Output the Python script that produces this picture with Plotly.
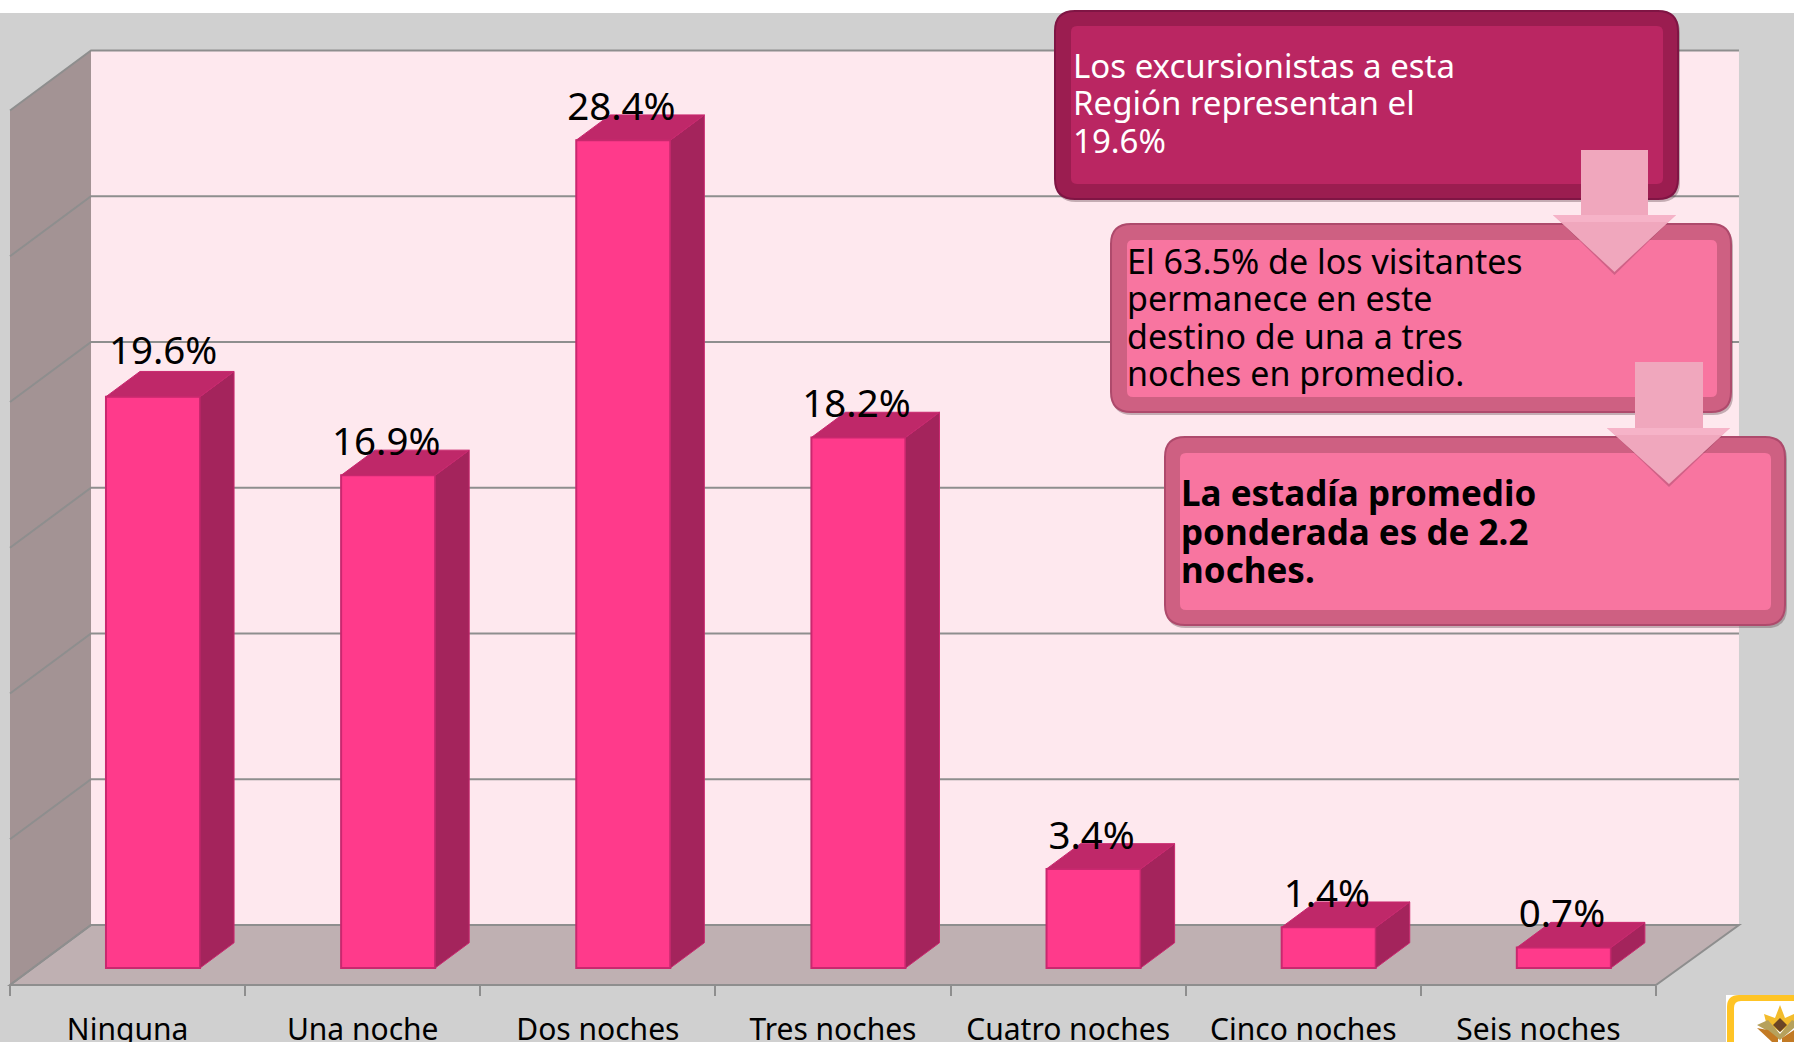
import plotly.graph_objects as go

# ---- data ----
categories = ["Ninguna", "Una noche", "Dos noches", "Tres noches", "Cuatro noches", "Cinco noches", "Seis noches"]
values = [19.6, 16.9, 28.4, 18.2, 3.4, 1.4, 0.7]
grid_values = [0, 5, 10, 15, 20, 25, 30]
box1_lines = ["Los excursionistas a esta", "Región representan el", "19.6%"]
box2_lines = ["El 63.5% de los visitantes", "permanece en este", "destino de una a tres", "noches en promedio."]
box3_lines = ["La estadía promedio", "ponderada es de 2.2", "noches."]

# ---- frame ----
W, H = 1794, 1042
FONT = "Noto Sans"
X_SCALE, Y_SCALE = 235.14, 29.15        # px per category / px per value unit
X_ORIGIN, Y_ORIGIN = 127.57, 968.0      # px of category 0 / value 0
DEPTH_X, DEPTH_Y = 0.3445, 2.06         # full floor depth in data units
BAR_FRONT, BAR_BACK = 0.283, 0.703
BAR_SHIFT = 2.5 / X_SCALE
BAR_W = 0.40
WALL_EXTRA = 2 / X_SCALE
BG, BACK, LEFT, FLOOR, GRID = "#D0D0D0", "#FEE8EE", "#A39394", "#BFB0B2", "#8E8E8E"
C_FRONT, C_SIDE, C_TOP, C_EDGE = "#FF3A8B", "#A4245C", "#BF2869", "#C9286F"


def pt(x, v, d):
    return x + d * DEPTH_X, v + (d - BAR_FRONT) * DEPTH_Y


def data_path(points):
    return "M" + " L".join(f"{x:.4f},{y:.4f}" for x, y in points) + " Z"


def px_x(p):
    return p / W


def px_y(p):
    return 1 - p / H


def rrect(x0, y0, x1, y1, r):
    c = [(x0 + r, y0), (x1 - r, y0), (x1, y0), (x1, y0 + r), (x1, y1 - r), (x1, y1), (x1 - r, y1),
         (x0 + r, y1), (x0, y1), (x0, y1 - r), (x0, y0 + r), (x0, y0), (x0 + r, y0)]
    f = lambda p: f"{px_x(p[0]):.5f},{px_y(p[1]):.5f}"
    return (f"M{f(c[0])} L{f(c[1])} Q{f(c[2])} {f(c[3])} L{f(c[4])} Q{f(c[5])} {f(c[6])} "
            f"L{f(c[7])} Q{f(c[8])} {f(c[9])} L{f(c[10])} Q{f(c[11])} {f(c[12])} Z")


def px_poly(points):
    return "M" + " L".join(f"{px_x(x):.5f},{px_y(y):.5f}" for x, y in points) + " Z"


shapes = []
XL, XR = -0.5, len(categories) - 0.5
XR_BACK = XR + WALL_EXTRA
# white band at top of the slide
shapes.append(dict(type="rect", xref="paper", yref="paper", x0=0, x1=1, y0=px_y(13), y1=1,
                   fillcolor="white", line_width=0, layer="below"))
# walls
shapes.append(dict(type="path", xref="x", yref="y", layer="below", fillcolor=BACK, line_width=0,
                   path=data_path([pt(XL, 0, 1), pt(XL, 30, 1), pt(XR_BACK, 30, 1), pt(XR_BACK, 0, 1)])))
shapes.append(dict(type="path", xref="x", yref="y", layer="below", fillcolor=LEFT, line_width=0,
                   path=data_path([pt(XL, 0, 0), pt(XL, 30, 0), pt(XL, 30, 1), pt(XL, 0, 1)])))
shapes.append(dict(type="path", xref="x", yref="y", layer="below", fillcolor=FLOOR,
                   line=dict(color=GRID, width=2),
                   path=data_path([pt(XL, 0, 0), pt(XL, 0, 1), pt(XR_BACK, 0, 1), pt(XR, 0, 0)])))
for g in grid_values:
    a, b, c = pt(XL, g, 0), pt(XL, g, 1), pt(XR_BACK, g, 1)
    shapes.append(dict(type="path", xref="x", yref="y", layer="below", line=dict(color=GRID, width=2),
                       path=f"M{a[0]:.4f},{a[1]:.4f} L{b[0]:.4f},{b[1]:.4f} L{c[0]:.4f},{c[1]:.4f}"))

# callout boxes
for (o, i, cout, cin, cedge) in [
    ((1055, 11, 1678, 199), (1071, 26, 1663, 184), "#9B1D50", "#BA2662", "#7F1544"),
    ((1111, 224, 1731, 412), (1127, 240, 1717, 397), "#CE6082", "#F875A0", "#AE4A6C"),
    ((1165, 437, 1785, 625), (1180, 453, 1771, 610), "#CE6082", "#F875A0", "#AE4A6C"),
]:
    shapes.append(dict(type="path", xref="paper", yref="paper", layer="above", fillcolor="rgba(90,60,70,0.35)",
                       line_width=0, path=rrect(o[0] + 1, o[1] + 2, o[2] + 2, o[3] + 3, 20)))
    shapes.append(dict(type="path", xref="paper", yref="paper", layer="above", fillcolor=cout,
                       line=dict(color=cedge, width=2), path=rrect(*o, 20)))
    shapes.append(dict(type="path", xref="paper", yref="paper", layer="above", fillcolor=cin,
                       line_width=0, path=rrect(*i, 6)))

# down arrows
for (sx0, sx1, sy0, sy1, hx0, hx1, tx, ty) in [
    (1581, 1648, 150, 215, 1553, 1676, 1614.5, 272),
    (1635, 1703, 362, 428, 1607, 1730, 1669, 484),
]:
    shapes.append(dict(type="path", xref="paper", yref="paper", layer="above", fillcolor="rgba(90,40,60,0.25)",
                       line_width=0,
                       path=px_poly([(tx - 55, sy1 + 6), (tx, ty + 3), (tx + 55, sy1 + 6), (tx, ty - 2)])))
    shapes.append(dict(type="path", xref="paper", yref="paper", layer="above", fillcolor="#F0A7BD", line_width=0,
                       path=px_poly([(sx0, sy0), (sx1, sy0), (sx1, sy1), (hx1, sy1), (tx, ty), (hx0, sy1), (sx0, sy1)])))
    shapes.append(dict(type="path", xref="paper", yref="paper", layer="above", fillcolor="#F6B3C8", line_width=0,
                       path=px_poly([(hx0, sy1), (hx1, sy1), (hx1 - 8, sy1 + 7), (hx0 + 8, sy1 + 7)])))

# corner logo
LOGO = [
    ("white", rrect(1726, 995, 1810, 1060, 0)),
    ("#FFC425", rrect(1727, 995, 1810, 1060, 12)),
    ("white", rrect(1734, 1001, 1810, 1060, 7)),
    ("#F3BC2C", px_poly([(1780, 1005), (1785, 1018), (1794, 1014), (1794, 1022), (1780, 1032), (1766, 1022), (1764, 1014), (1775, 1018)])),
    ("#B6A15C", px_poly([(1757, 1025), (1768, 1020), (1780, 1034), (1792, 1020), (1794, 1021), (1794, 1028), (1780, 1040), (1766, 1030)])),
    ("#C27A24", px_poly([(1757, 1028), (1768, 1030), (1778, 1038), (1778, 1042), (1772, 1042)])),
    ("#C27A24", px_poly([(1782, 1038), (1794, 1030), (1794, 1042), (1782, 1042)])),
    ("#6B4526", px_poly([(1780, 1018), (1787, 1025), (1780, 1032), (1773, 1025)])),
]
for col, path in LOGO:
    shapes.append(dict(type="path", xref="paper", yref="paper", layer="above", fillcolor=col, line_width=0, path=path))

fig = go.Figure()

# front faces
fig.add_trace(go.Bar(
    x=list(range(len(categories))), y=values, width=BAR_W,
    offset=BAR_FRONT * DEPTH_X + BAR_SHIFT - BAR_W / 2,
    marker=dict(color=C_FRONT, line=dict(color=C_EDGE, width=2)), showlegend=False, hoverinfo="skip",
))

# 3D side and top faces
for i, v in enumerate(values):
    x0 = i + BAR_SHIFT - BAR_W / 2
    x1 = i + BAR_SHIFT + BAR_W / 2
    top = [pt(x0, v, BAR_FRONT), pt(x0, v, BAR_BACK), pt(x1, v, BAR_BACK), pt(x1, v, BAR_FRONT)]
    side = [pt(x1, 0, BAR_FRONT), pt(x1, v, BAR_FRONT), pt(x1, v, BAR_BACK), pt(x1, 0, BAR_BACK)]
    for poly, col in ((side, C_SIDE), (top, C_TOP)):
        xs, ys = zip(*(poly + poly[:1]))
        fig.add_trace(go.Scatter(x=xs, y=ys, mode="lines", fill="toself", fillcolor=col,
                                 line=dict(color=C_EDGE, width=1), showlegend=False, hoverinfo="skip"))

# value labels
LABEL_LIFT = 30 / Y_SCALE
FIRST_EXTRA_X, FIRST_EXTRA_Y = 12 / X_SCALE, 12 / Y_SCALE
lx = [i + BAR_FRONT * DEPTH_X + BAR_SHIFT - 0.008 for i in range(len(values))]
ly = [v + LABEL_LIFT for v in values]
lx[0] += FIRST_EXTRA_X
ly[0] += FIRST_EXTRA_Y
fig.add_trace(go.Scatter(x=lx, y=ly, mode="text", text=[f"{v:.1f}%" for v in values],
                         textposition="middle center", textfont=dict(family=FONT, size=38.5, color="black"),
                         showlegend=False, hoverinfo="skip", cliponaxis=False))

# callout text
annotations = []
for lines, xpx, ys, col, bold, size in [
    (box1_lines, 1071, [66, 103, 141], "white", False, 33),
    (box2_lines, 1125, [261, 298, 336, 373], "black", False, 34),
    (box3_lines, 1179, [493, 531, 569], "black", True, 35),
]:
    for line, ypx in zip(lines, ys):
        annotations.append(dict(xref="paper", yref="paper", x=px_x(xpx), y=px_y(ypx), xanchor="left", yanchor="middle",
                                showarrow=False, align="left", font=dict(family=FONT, size=size, color=col),
                                text=f"<b>{line}</b>" if bold else line))

fig.update_layout(
    width=W, height=H, margin=dict(l=0, r=0, t=0, b=0, pad=0), autosize=False,
    paper_bgcolor=BG, plot_bgcolor="rgba(0,0,0,0)", showlegend=False,
    shapes=shapes, annotations=annotations,
    xaxis=dict(
        range=[(0 - X_ORIGIN) / X_SCALE, (W - X_ORIGIN) / X_SCALE], domain=[0, 1], anchor="free",
        position=(H - 985) / H, showgrid=False, zeroline=False, showline=False, automargin=False,
        tickmode="array", tickvals=list(range(len(categories))), ticktext=categories,
        ticks="outside", ticklen=18, tickcolor="rgba(0,0,0,0)",
        tickfont=dict(family=FONT, size=30, color="black"),
        minor=dict(tickmode="array", tickvals=[i - 0.5 for i in range(len(categories) + 1)],
                   ticks="outside", ticklen=10, tickwidth=2, tickcolor=GRID),
    ),
    yaxis=dict(range=[(Y_ORIGIN - H) / Y_SCALE, Y_ORIGIN / Y_SCALE], domain=[0, 1], visible=False, automargin=False),
)

fig.write_html("out.html", post_script="document.body.style.margin='0';document.body.style.overflow='hidden';",
               config={"displayModeBar": False})
